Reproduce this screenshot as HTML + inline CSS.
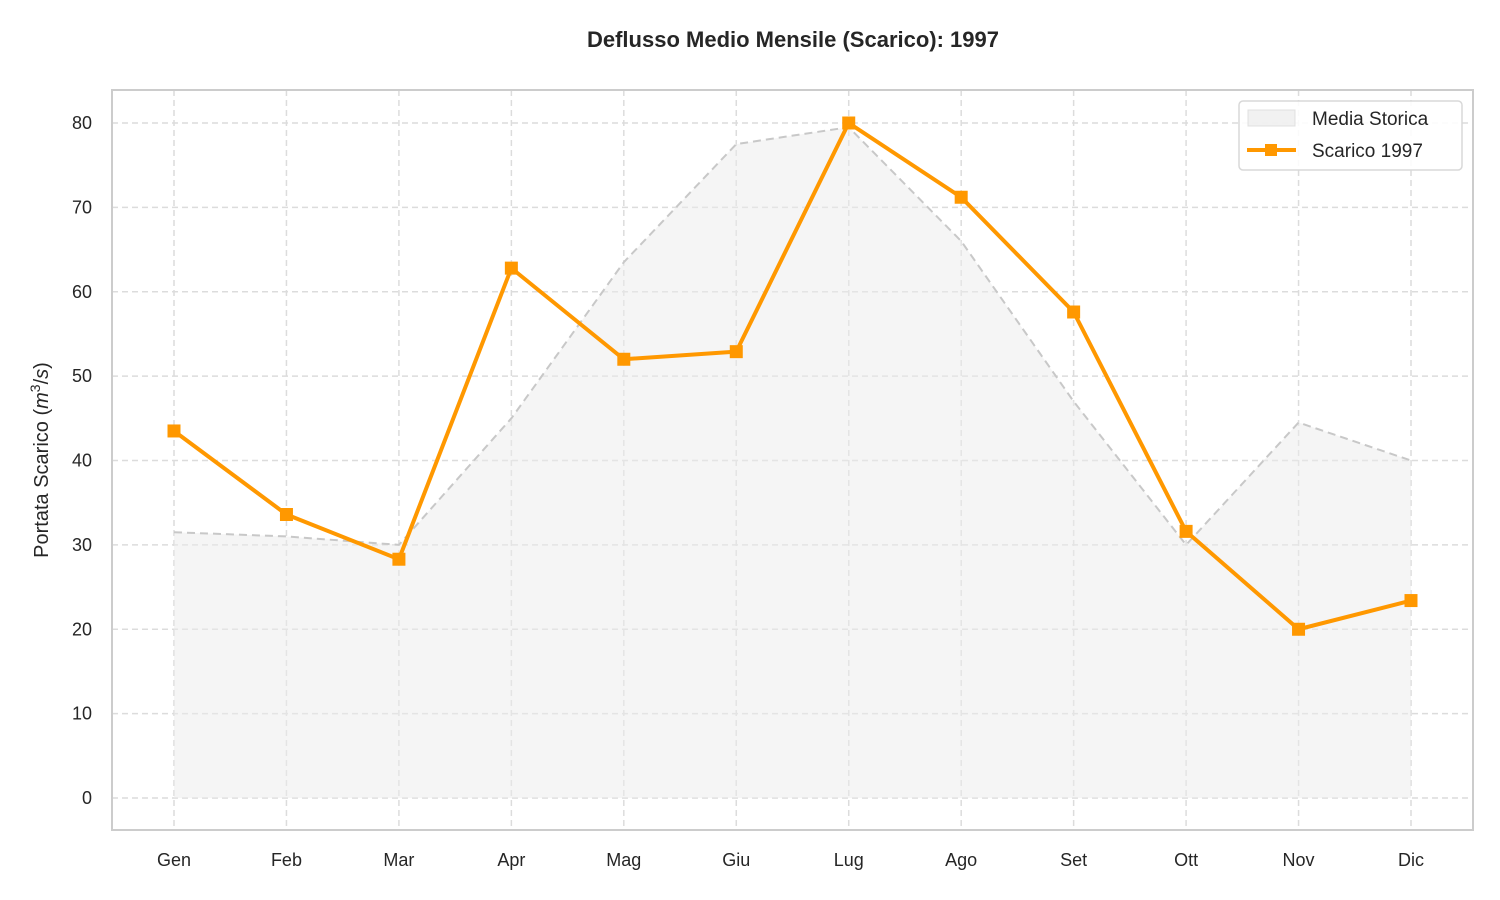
<!DOCTYPE html>
<html><head><meta charset="utf-8"><style>
body{margin:0;background:#fff;}
svg{display:block;font-family:"Liberation Sans",Arial,sans-serif;}
</style></head><body>
<svg id="chart" width="1500" height="900">
<text x="793" y="47" text-anchor="middle" font-size="22" font-weight="bold" fill="#262626">Deflusso Medio Mensile (Scarico): 1997</text>
<g id="grid"></g>
<path id="hist-area" fill="#ebebeb" fill-opacity="0.5" stroke="none"/>
<path id="hist-line" fill="none" stroke="#c8c8c8" stroke-width="2" stroke-dasharray="8,5"/>
<path id="main-line" fill="none" stroke="#ff9800" stroke-width="4" stroke-linejoin="round"/>
<g id="markers"></g>
<rect x="112" y="90" width="1361" height="740" fill="none" stroke="#cccccc" stroke-width="2"/>
<g id="ticks" font-size="18" fill="#262626"></g>
<text transform="translate(48,460) rotate(-90)" text-anchor="middle" font-size="20" fill="#262626">Portata Scarico (<tspan font-style="italic">m</tspan><tspan font-size="14" dy="-8">3</tspan><tspan dy="8">/</tspan><tspan font-style="italic">s</tspan>)</text>
<g>
<rect x="1239" y="101" width="223" height="69" rx="4" fill="#fff" fill-opacity="0.85" stroke="#d8d8d8" stroke-width="1.5"/>
<rect x="1248" y="110" width="47" height="16" fill="#ebebeb" fill-opacity="0.7" stroke="#e0e0e0"/>
<text x="1312" y="125" font-size="19" fill="#262626">Media Storica</text>
<line x1="1247" y1="150" x2="1296" y2="150" stroke="#ff9800" stroke-width="4"/>
<rect x="1265" y="144" width="12" height="12" fill="#ff9800"/>
<text x="1312" y="157" font-size="19" fill="#262626">Scarico 1997</text>
</g>
</svg>
<script>
const months=["Gen","Feb","Mar","Apr","Mag","Giu","Lug","Ago","Set","Ott","Nov","Dic"];
const discharge=[43.5,33.6,28.3,62.8,52,52.9,80,71.2,57.6,31.6,20,23.4];
const historical=[31.5,31,30,45,63.5,77.5,79.5,66,47,30,44.5,40];
const yTicks=[0,10,20,30,40,50,60,70,80];
const NS="http://www.w3.org/2000/svg";
const x=i=>174+i*(1411-174)/11;
const y=v=>798-v*(675/80);
function mk(tag,attrs,parent){const e=document.createElementNS(NS,tag);for(const k in attrs)e.setAttribute(k,attrs[k]);parent.appendChild(e);return e;}
const grid=document.getElementById('grid'),ticks=document.getElementById('ticks'),markers=document.getElementById('markers');
yTicks.forEach(t=>{
 const l=mk('line',{x1:112,x2:1473,y1:y(t),y2:y(t),stroke:'#dcdcdc','stroke-width':1.5,'stroke-dasharray':'6,4'},grid);
 
 
 const tx=mk('text',{x:92,y:y(t)+6,'text-anchor':'end'},ticks);tx.textContent=t;
 
 
});
months.forEach((m,i)=>{
 const l=mk('line',{x1:x(i),x2:x(i),y1:90,y2:830,stroke:'#dcdcdc','stroke-width':1.5,'stroke-dasharray':'6,4'},grid);
 
 
 const tx=mk('text',{x:x(i),y:866,'text-anchor':'middle'},ticks);tx.textContent=m;
 
 
});
const hl=historical.map((v,i)=>(i?'L':'M')+x(i)+','+y(v)).join('');
document.getElementById('hist-line').setAttribute('d',hl);
document.getElementById('hist-area').setAttribute('d',hl+'L'+x(11)+','+y(0)+'L'+x(0)+','+y(0)+'Z');
document.getElementById('main-line').setAttribute('d',discharge.map((v,i)=>(i?'L':'M')+x(i)+','+y(v)).join(''));
discharge.forEach((v,i)=>{
 const r=mk('rect',{x:x(i)-6.5,y:y(v)-6.5,width:13,height:13,fill:'#ff9800'},markers);
 
 
});
</script>
</body></html>
